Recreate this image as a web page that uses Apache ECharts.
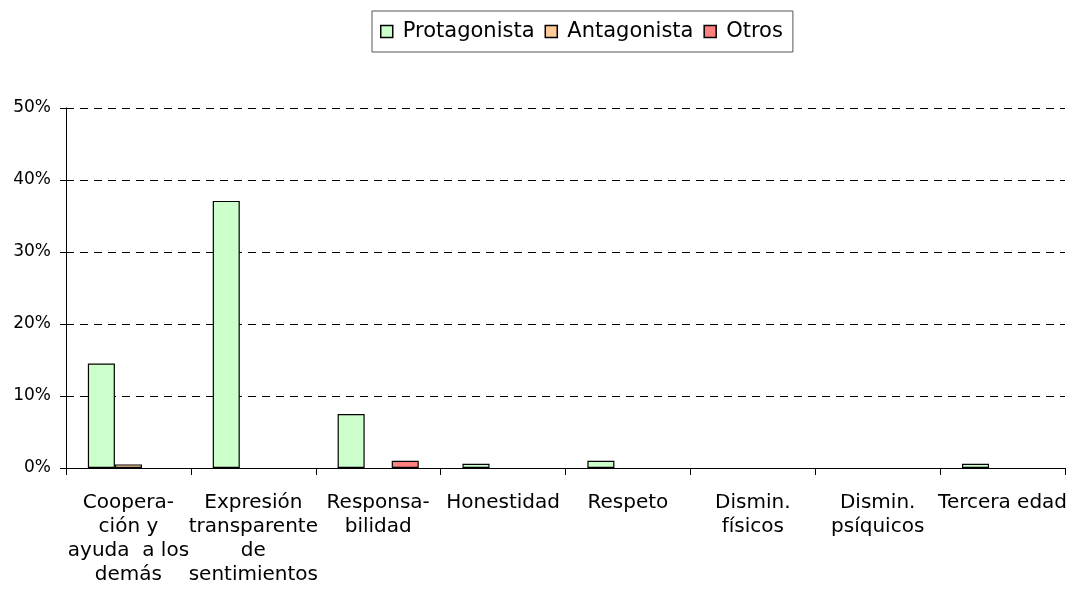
<!DOCTYPE html>
<html>
<head>
<meta charset="utf-8">
<script src="https://cdn.jsdelivr.net/npm/echarts@6/dist/echarts.min.js"></script>
<style>
html, body { margin: 0; padding: 0; background: #fff; }
#chart { width: 1073px; height: 599px; }
</style>
</head>
<body>
<div id="chart"></div>
<script>
var categories = [
    'Coopera-\nción y\nayuda  a los\ndemás',
    'Expresión\ntransparente\nde\nsentimientos',
    'Responsa-\nbilidad',
    'Honestidad',
    'Respeto',
    'Dismin.\nfísicos',
    'Dismin.\npsíquicos',
    'Tercera edad'
];
// '-' = no bar drawn
var protagonista = [14.5, 37.1, 7.5, 0.6, 1.0, '-', '-', 0.6];
var antagonista = [0.5, '-', '-', '-', '-', '-', '-', '-'];
var otros = ['-', '-', 1.0, '-', '-', '-', '-', '-'];
var yTicks = [0, 10, 20, 30, 40, 50];

var chart = echarts.init(document.getElementById('chart'));
var font = 'DejaVu Sans, sans-serif';
var barStyle = function (color) {
    return { color: color, borderColor: '#000', borderWidth: 1.2 };
};
var option = {
    animation: false,
    textStyle: { fontFamily: font },
    legend: {
        top: 11,
        left: 372,
        padding: [10, 10, 10, 8],
        borderColor: '#555',
        borderWidth: 1,
        itemGap: 10,
        itemWidth: 12,
        itemHeight: 12,
        icon: 'rect',
        itemStyle: { borderColor: '#000', borderWidth: 1.5 },
        textStyle: { fontSize: 21, color: '#000', padding: [0, 0, 0, 5] },
        data: ['Protagonista', 'Antagonista', 'Otros']
    },
    grid: { left: 66, right: 8, top: 108, bottom: 131 },
    xAxis: {
        type: 'category',
        data: categories,
        axisLine: { lineStyle: { color: '#000', width: 1 } },
        axisTick: { show: true, length: 7, lineStyle: { color: '#000' } },
        axisLabel: { color: '#000', fontSize: 20, lineHeight: 24, margin: 23, interval: 0 }
    },
    yAxis: {
        type: 'value',
        min: 0,
        max: 50,
        interval: 10,
        axisLine: { show: true, lineStyle: { color: '#000' } },
        axisTick: { show: true, length: 6, lineStyle: { color: '#000' } },
        axisLabel: {
            color: '#000', fontSize: 17, margin: 15,
            formatter: function (v) { return yTicks.indexOf(v) >= 0 ? v + '%' : ''; }
        },
        splitLine: { show: true, lineStyle: { color: '#000', type: [8, 6], width: 1 } }
    },
    series: [
        { name: 'Protagonista', type: 'bar', data: protagonista, barGap: '0%', barCategoryGap: '35%', itemStyle: barStyle('#CCFFCC') },
        { name: 'Antagonista', type: 'bar', data: antagonista, itemStyle: barStyle('#FFCC99') },
        { name: 'Otros', type: 'bar', data: otros, itemStyle: barStyle('#FF8080') }
    ]
};
chart.setOption(option);
</script>
</body>
</html>
